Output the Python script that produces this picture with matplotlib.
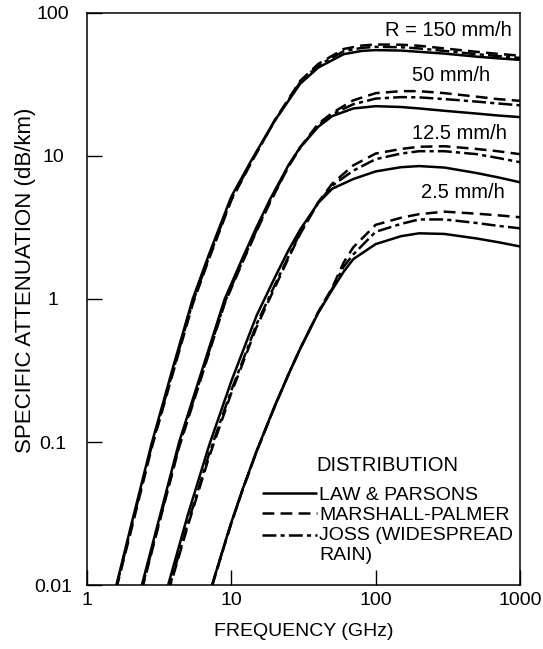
import matplotlib
matplotlib.use("Agg")
import matplotlib.pyplot as plt
from matplotlib.ticker import FixedLocator, FixedFormatter, NullLocator

plt.rcParams['font.family'] = ['Liberation Sans', 'DejaVu Sans']
plt.rcParams['lines.scale_dashes'] = False

# ---------------- data ----------------
# frequency (GHz) and specific attenuation (dB/km)
f150 = [1.6, 2, 2.8, 4, 5.4, 7, 10, 14, 20, 30, 40, 60, 80, 100, 150, 200, 300, 500, 700, 1000]
a150_lp = [0.01, 0.025, 0.097, 0.35, 1.0, 2.05, 5.2, 9.6, 17.7, 32, 41.5, 51.5, 54.3, 55, 54.6, 53.5, 52, 49.5, 48.2, 47]
a150_mp = [0.0095, 0.023, 0.09, 0.32, 0.92, 1.9, 4.9, 9.3, 17.8, 33.5, 44, 56, 59.2, 60.2, 60, 59, 56.5, 53.5, 51.8, 50.3]
a150_joss = [0.0098, 0.024, 0.093, 0.33, 0.95, 1.95, 5.0, 9.4, 17.6, 32.8, 43, 54, 57, 58, 57.6, 56.5, 54.3, 51.5, 50, 48.5]

f50 = [2.4, 3, 4.35, 6, 9, 12, 15, 18.5, 25, 30, 40, 50, 70, 100, 150, 200, 300, 500, 700, 1000]
a50_lp = [0.01, 0.0237, 0.1, 0.277, 1.0, 1.95, 3.2, 4.95, 8.7, 11.5, 16.0, 19.0, 21.5, 22.3, 22.0, 21.5, 20.7, 19.8, 19.2, 18.7]
a50_mp = [0.0092, 0.022, 0.092, 0.255, 0.93, 1.82, 3.0, 4.7, 8.5, 11.5, 16.8, 20.0, 24.5, 27.5, 28.4, 28.4, 27.5, 26.0, 25.0, 24.3]
a50_joss = [0.0095, 0.0225, 0.095, 0.262, 0.95, 1.86, 3.05, 4.8, 8.55, 11.4, 16.4, 19.6, 23.0, 25.2, 25.8, 25.7, 25.0, 24.0, 23.3, 22.6]

f12 = [3.65, 5, 7, 10, 12, 15, 20, 25, 30, 40, 50, 70, 100, 150, 200, 300, 500, 700, 1000]
a12_lp = [0.01, 0.031, 0.094, 0.266, 0.43, 0.77, 1.41, 2.21, 3.06, 4.7, 5.9, 6.9, 7.8, 8.35, 8.5, 8.3, 7.6, 7.1, 6.55]
a12_mp = [0.0088, 0.026, 0.078, 0.22, 0.355, 0.64, 1.2, 1.95, 2.85, 4.75, 6.4, 8.6, 10.4, 11.2, 11.6, 11.7, 11.2, 10.8, 10.3]
a12_joss = [0.009, 0.027, 0.082, 0.23, 0.37, 0.67, 1.25, 2.0, 2.9, 4.7, 6.2, 7.9, 9.5, 10.4, 10.8, 10.8, 10.3, 9.7, 9.05]

f25 = [7.35, 9, 10, 12, 15, 20, 25, 30, 40, 50, 60, 70, 100, 150, 200, 300, 500, 700, 1000]
a25_lp = [0.01, 0.0195, 0.0274, 0.047, 0.087, 0.179, 0.30, 0.448, 0.80, 1.16, 1.55, 1.9, 2.42, 2.75, 2.88, 2.85, 2.65, 2.5, 2.33]
a25_mp = [0.0098, 0.0192, 0.027, 0.0465, 0.086, 0.177, 0.30, 0.45, 0.81, 1.2, 1.8, 2.3, 3.3, 3.7, 3.92, 4.08, 3.95, 3.85, 3.73]
a25_joss = [0.0099, 0.0194, 0.0272, 0.0468, 0.0865, 0.178, 0.30, 0.45, 0.805, 1.18, 1.68, 2.05, 2.95, 3.35, 3.6, 3.6, 3.4, 3.25, 3.12]

rate_labels = ['R = 150 mm/h', '50 mm/h', '12.5 mm/h', '2.5 mm/h']
dist_labels = ['LAW & PARSONS', 'MARSHALL-PALMER', 'JOSS (WIDESPREAD\nRAIN)']
legend_title = 'DISTRIBUTION'

xticks = [1, 10, 100, 1000]
xtick_labels = ['1', '10', '100', '1000']
yticks = [0.01, 0.1, 1, 10, 100]
ytick_labels = ['0.01', '0.1', '1', '10', '100']
xlabel = 'FREQUENCY (GHz)'
ylabel = 'SPECIFIC ATTENUATION (dB/km)'

# ---------------- figure ----------------
fig = plt.figure(figsize=(5.43, 6.49), dpi=100)
ax = fig.add_axes([0.1602, 0.0986, 0.7974, 0.8814])

groups = [
    (f150, a150_lp, a150_mp, a150_joss),
    (f50, a50_lp, a50_mp, a50_joss),
    (f12, a12_lp, a12_mp, a12_joss),
    (f25, a25_lp, a25_mp, a25_joss),
]

lw = 1.8
handles = None
for f, lp, mp, joss in groups:
    h1, = ax.plot(f, lp, color='black', lw=lw, solid_capstyle='butt')
    h2, = ax.plot(f, mp, color='black', lw=lw, linestyle=(0, (8.5, 4.5)))
    h3, = ax.plot(f, joss, color='black', lw=lw, linestyle=(0, (10, 3, 3, 3)))
    if handles is None:
        handles = [h1, h2, h3]

ax.set_xscale('log')
ax.set_yscale('log')
ax.set_xlim(1, 1000)
ax.set_ylim(0.01, 100)

ax.xaxis.set_major_locator(FixedLocator(xticks))
ax.xaxis.set_major_formatter(FixedFormatter(xtick_labels))
ax.yaxis.set_major_locator(FixedLocator(yticks))
ax.yaxis.set_major_formatter(FixedFormatter(ytick_labels))
ax.xaxis.set_minor_locator(NullLocator())
ax.yaxis.set_minor_locator(NullLocator())

ax.tick_params(axis='both', direction='in', length=10.8, width=1.0,
               top=False, right=False, labelsize=14, color='black')
ax.tick_params(axis='x', pad=5.0)
ax.tick_params(axis='y', pad=24.5)
for lab in ax.get_yticklabels():
    lab.set_horizontalalignment('center')

for sp in ax.spines.values():
    sp.set_linewidth(1.1)
    sp.set_color('black')

ax.set_xlabel(xlabel, fontsize=14)
ax.xaxis.set_label_coords(0.5, -0.067)
ax.set_ylabel(ylabel, fontsize=16)
ax.yaxis.set_label_coords(-0.118, 0.533)

# rate annotations
rate_pos = [(0.9815, 0.970), (0.931, 0.891), (0.970, 0.790), (0.965, 0.687)]
for txt, (x, y) in zip(rate_labels, rate_pos):
    ax.text(x, y, txt, transform=ax.transAxes, ha='right', va='center',
            fontsize=14.5)

leg = ax.legend(handles, dist_labels, title=legend_title, loc='upper left',
                bbox_to_anchor=(0.4035, 0.2255), frameon=False, borderpad=0,
                borderaxespad=0, handlelength=2.85, handletextpad=0.12,
                labelspacing=0.15, fontsize=14, title_fontsize=14.5)
# extra gap between the title and the entries
leg._legend_box.sep = 8.0
# put the JOSS handle on the first line of its two-line label
joss_handle = leg.get_lines()[2]
joss_handle.set_ydata([v + 7.2 for v in joss_handle.get_ydata()])

fig.savefig('out.png', dpi=100)
